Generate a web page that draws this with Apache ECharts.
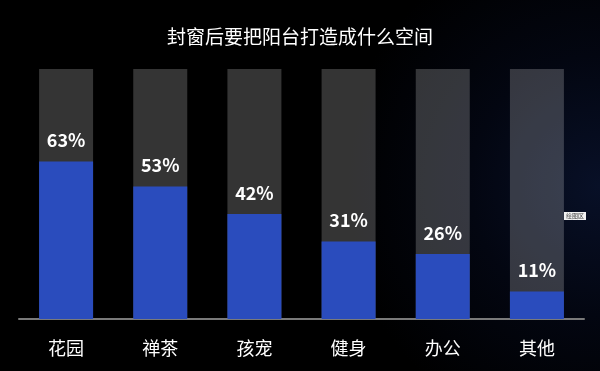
<!DOCTYPE html>
<html><head><meta charset="utf-8">
<script src="https://cdn.jsdelivr.net/npm/echarts@6/dist/echarts.min.js"></script>
<style>html,body{margin:0;padding:0;background:#000;}#c{width:600px;height:371px;}</style>
</head><body><div id="c"></div>
<script>
var title = '封窗后要把阳台打造成什么空间';
var categories = ['花园','禅茶','孩宠','健身','办公','其他'];
var values = [63, 53, 42, 31, 26, 11];
var totals = [100, 100, 100, 100, 100, 100];
var plotTag = '绘图区';

var chart = echarts.init(document.getElementById('c'));
var font = '"Noto Sans CJK SC", "Noto Sans", sans-serif';
chart.setOption({
  animation: false,
  backgroundColor: {
    type: 'radial', x: 1.0, y: 0.5, r: 0.7,
    colorStops: [{offset: 0, color: '#081027'}, {offset: 0.5, color: '#030611'}, {offset: 1, color: '#000000'}]
  },
  title: {
    text: title, left: 'center', top: 22,
    textStyle: {color: '#ffffff', fontSize: 19, fontWeight: 'normal', fontFamily: font}
  },
  grid: {left: 19, right: 16, top: 69, bottom: 52, containLabel: false},
  xAxis: {
    type: 'category', data: categories,
    axisLine: {show: true, lineStyle: {color: '#7a7a7a', width: 2}},
    axisTick: {show: false},
    axisLabel: {color: '#ffffff', fontSize: 18, fontFamily: font, margin: 20}
  },
  yAxis: {type: 'value', min: 0, max: 100, show: false},
  series: [
    {type: 'bar', data: totals, barWidth: 54, barGap: '-100%',
     itemStyle: {color: 'rgba(255,255,255,0.205)'}, silent: true, z: 1},
    {type: 'bar', data: values, barWidth: 54,
     itemStyle: {color: '#2a4cbd'}, z: 2,
     label: {show: true, position: 'top', distance: 12, color: '#ffffff', fontSize: 18,
             fontWeight: 'bold', fontFamily: font, formatter: '{c}%'}}
  ],
  graphic: [
    {type: 'text', left: 564, top: 212,
     style: {text: plotTag, fontSize: 6, fill: '#444', backgroundColor: '#f2f2f2',
             padding: [1, 2], fontFamily: font}}
  ]
});
</script></body></html>
